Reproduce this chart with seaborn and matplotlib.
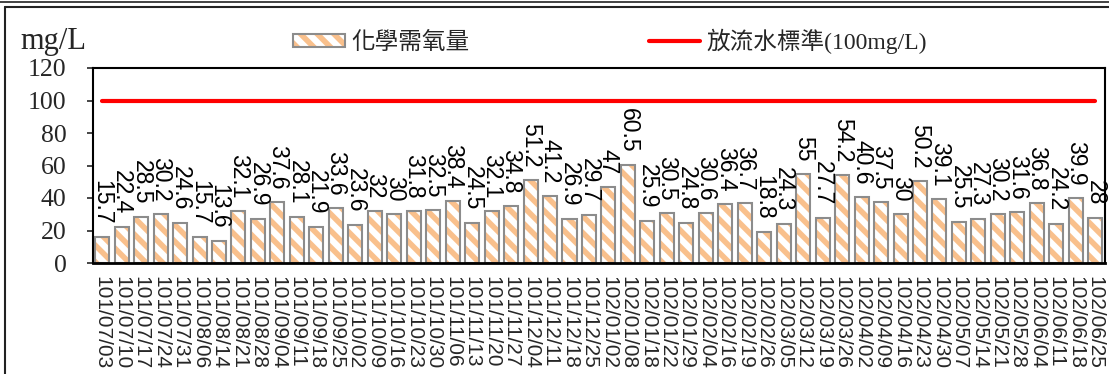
import numpy as np
import pandas as pd
import matplotlib
matplotlib.use("Agg")
import matplotlib.pyplot as plt
import seaborn as sns
from matplotlib.patches import Patch
from matplotlib.lines import Line2D

# ---------------- data ----------------
dates = [
    "101/07/03", "101/07/10", "101/07/17", "101/07/24", "101/07/31", "101/08/06",
    "101/08/14", "101/08/21", "101/08/28", "101/09/04", "101/09/11", "101/09/18",
    "101/09/25", "101/10/02", "101/10/09", "101/10/16", "101/10/23", "101/10/30",
    "101/11/06", "101/11/13", "101/11/20", "101/11/27", "101/12/04", "101/12/11",
    "101/12/18", "101/12/25", "102/01/02", "102/01/08", "102/01/18", "102/01/22",
    "102/01/29", "102/02/04", "102/02/16", "102/02/19", "102/02/26", "102/03/05",
    "102/03/12", "102/03/19", "102/03/26", "102/04/02", "102/04/09", "102/04/16",
    "102/04/23", "102/04/30", "102/05/07", "102/05/14", "102/05/21", "102/05/28",
    "102/06/04", "102/06/11", "102/06/18", "102/06/25",
]
cod = [
    15.7, 22.4, 28.5, 30.2, 24.6, 15.7, 13.6, 32.1, 26.9, 37.6, 28.1, 21.9,
    33.6, 23.6, 32, 30, 31.8, 32.5, 38.4, 24.5, 32.1, 34.8, 51.2, 41.2,
    26.9, 29.7, 47, 60.5, 25.9, 30.5, 24.8, 30.6, 36.4, 36.7, 18.8, 24.3,
    55, 27.7, 54.2, 40.6, 37.5, 30, 50.2, 39.1, 25.5, 27.3, 30.2, 31.6,
    36.8, 24.2, 39.9, 28,
]
standard = 100
series_names = ["化學需氧量", "放流水標準(100mg/L)"]
unit_label = "mg/L"
yticks = [0, 20, 40, 60, 80, 100, 120]

df = pd.DataFrame({"date": dates, "cod": cod})
df["standard"] = standard

# ---------------- style ----------------
sns.set_style("white")
plt.rcParams["font.family"] = ["Liberation Serif", "Noto Sans CJK TC"]
plt.rcParams["hatch.linewidth"] = 4.0
orange = "#F9C08C"
grey = "#8C8C8C"
plt.rcParams["hatch.color"] = orange

fig = plt.figure(figsize=(11.09, 3.74), dpi=100)
ax = fig.add_axes([93 / 1109, 1 - 263 / 374, (1105 - 93) / 1109, (263 - 68) / 374])

# hatched fill layer
sns.barplot(data=df, x="date", y="cod", color="white", edgecolor=orange,
            hatch="\\\\", linewidth=0, width=0.72, errorbar=None,
            saturation=1, ax=ax)
# grey outline layer
sns.barplot(data=df, x="date", y="cod", fill=False, color=grey,
            linewidth=1.5, width=0.72, errorbar=None, saturation=1, ax=ax)

# standard line
sns.lineplot(x=df.index, y=df["standard"], color="#FF0000", linewidth=3,
             ax=ax, legend=False)

# value labels
ax.bar_label(ax.containers[0], labels=[f"{v:g}" for v in cod], rotation=270,
             padding=9, fontsize=16.5, family="Liberation Sans", color="black")

ax.set_xlim(-0.47, len(dates) - 0.5)
ax.set_ylim(0, 120)
ax.set_yticks(yticks)
ax.set_xticks(range(len(dates)))
ax.set_xticklabels(dates, rotation=270, fontsize=15, family="Liberation Sans")
ax.tick_params(axis="x", length=0, pad=9)
ax.tick_params(axis="y", length=4, width=1.2, direction="out", pad=15,
               labelsize=18.5, left=True)
ax.set_xlabel("")
ax.set_ylabel("")
for s in ax.spines.values():
    s.set_visible(True)
    s.set_color("black")
    s.set_linewidth(1.5)
ax.spines["bottom"].set_linewidth(2)

# unit label
fig.text(20 / 1109, 1 - 41 / 374, unit_label, fontsize=22, va="center",
         ha="left", family="Liberation Serif")

# legend
h_bar = (Patch(facecolor="white", edgecolor=orange, hatch="\\\\", linewidth=0),
         Patch(fill=False, edgecolor=grey, linewidth=1.5))
h_line = Line2D([], [], color="#FF0000", linewidth=3)
fig.legend([h_bar, h_line], series_names, loc="center",
           bbox_to_anchor=(610 / 1109, 1 - 41 / 374), ncol=2, frameon=False,
           fontsize=17, handlelength=2.2, handleheight=0.5,
           handletextpad=0.25, columnspacing=7.6, borderpad=0,
           borderaxespad=0)

# outer frame decoration
fig.add_artist(Line2D([0, 1], [1 - 1.5 / 374] * 2, color="#222222", lw=1.2,
                      transform=fig.transFigure))
fig.add_artist(Line2D([4.5 / 1109, 1], [1 - 7 / 374] * 2, color="#222222", lw=1.5,
                      transform=fig.transFigure))
fig.add_artist(Line2D([4.5 / 1109] * 2, [1 - 7 / 374, 0], color="#222222", lw=1.5,
                      transform=fig.transFigure))

fig.savefig("out.png", dpi=100)
